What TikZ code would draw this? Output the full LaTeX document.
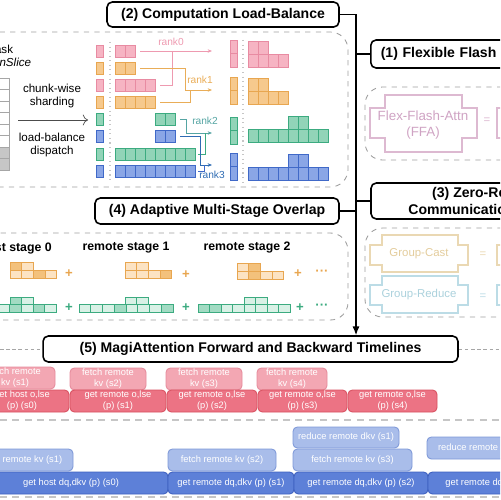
\documentclass[tikz,border=0pt]{standalone}
\usepackage{fontspec}
\setmainfont{Liberation Sans}
\usetikzlibrary{arrows.meta}

\definecolor{pkfill}{HTML}{F6B4C3}
\definecolor{pkline}{HTML}{E88BA2}
\definecolor{orfill}{HTML}{F6C98D}
\definecolor{orline}{HTML}{E8A650}
\definecolor{gnfill}{HTML}{92D4B8}
\definecolor{gnline}{HTML}{3CAB80}
\definecolor{blfill}{HTML}{8AA6E6}
\definecolor{blline}{HTML}{4069C8}
\definecolor{orD}{HTML}{F3C17C}
\definecolor{orL}{HTML}{FCE3C3}
\definecolor{gnD}{HTML}{A2DBC3}
\definecolor{gnL}{HTML}{D9F1E6}
\definecolor{rkzero}{HTML}{EE9AB0}
\definecolor{rkone}{HTML}{E9AD58}
\definecolor{rktwo}{HTML}{55A5A3}
\definecolor{rkthree}{HTML}{2F6CB3}
\definecolor{fwlite}{HTML}{F3A7B3}
\definecolor{fwlitel}{HTML}{E58A9B}
\definecolor{fwdark}{HTML}{EC7384}
\definecolor{fwdarkl}{HTML}{D8505F}
\definecolor{bwlite}{HTML}{A9BDEA}
\definecolor{bwlitel}{HTML}{7D98D8}
\definecolor{bwdark}{HTML}{5D80D8}
\definecolor{bwdarkl}{HTML}{3C5FBF}
\definecolor{ffa}{HTML}{DDB9D1}
\definecolor{ffatext}{HTML}{CFA3C3}
\definecolor{gcast}{HTML}{EAD8B3}
\definecolor{gcasttext}{HTML}{E3CC9C}
\definecolor{greduce}{HTML}{BCDCE6}
\definecolor{greducetext}{HTML}{ABD1DC}

\newcommand{\cellrow}[6]{\foreach \k in {1,...,#3} \draw[#6] ({#1+(\k-1)*(#4)},#2) rectangle ++(#4,#5);}
\newcommand{\tonerow}[6]{\foreach \c [count=\k] in {#6} \draw[draw=#5, fill=\c, line width=0.4pt] ({#1+(\k-1)*(#3)},#2) rectangle ++(#3,#4);}
\newcommand{\tlbox}[7]{\node[#6, minimum width={(#4-(#2))*0.02cm}, minimum height={(#5-(#3))*0.02cm}] (#1) at ({(#2+#4)/2},{(#3+#5)/2}) {#7};}
\newcommand{\plusshape}[9]{\draw[#9] (#2,#5) -- (#3,#5) -- (#3,#6) -- (#4,#6) -- (#4,#7) -- (#3,#7) -- (#3,#8) -- (#2,#8) -- (#2,#7) -- (#1,#7) -- (#1,#6) -- (#2,#6) -- cycle;}

\begin{document}
\begin{tikzpicture}[x=0.02cm, y=-0.02cm,
    title/.style={draw, line width=0.9pt, rounded corners=3pt, fill=white, font=\bfseries\fontsize{8}{9.4}\selectfont, inner sep=0pt},
    frame/.style={draw=gray!75, dashed, line width=0.5pt, rounded corners=10pt},
    sepline/.style={gray!70, line width=0.5pt, dash pattern=on 2pt off 1.5pt},
    longsep/.style={gray!45, line width=0.8pt, dash pattern=on 4pt off 3pt},
    trunk/.style={line width=0.7pt},
    lbl/.style={font=\fontsize{6.6}{7.4}\selectfont, align=center, inner sep=0pt},
    stagelbl/.style={font=\bfseries\fontsize{7}{7.5}\selectfont, inner sep=0pt},
    rklbl/.style={font=\fontsize{5.8}{6}\selectfont, inner sep=0pt},
    rk/.style={line width=0.4pt},
    rktip/.style={line width=0.4pt, -{Stealth[length=2.5pt,width=2pt]}},
    pk/.style={fill=pkfill, draw=pkline, line width=0.4pt},
    or/.style={fill=orfill, draw=orline, line width=0.4pt},
    gn/.style={fill=gnfill, draw=gnline, line width=0.4pt},
    bl/.style={fill=blfill, draw=blline, line width=0.4pt},
    plusop/.style={font=\bfseries\fontsize{7.5}{7.5}\selectfont, inner sep=0pt},
    prim/.style={line width=0.6pt},
    primtext/.style={font=\fontsize{6.5}{7.6}\selectfont, align=center, inner sep=0pt},
    tl/.style={rounded corners=2.5pt, line width=0.5pt, text=white, align=center, inner sep=0pt, font=\fontsize{5.3}{6.2}\selectfont},
    fwtop/.style={tl, fill=fwlite, draw=fwlitel},
    fwbot/.style={tl, fill=fwdark, draw=fwdarkl},
    bwtop/.style={tl, fill=bwlite, draw=bwlitel},
    bwbot/.style={tl, fill=bwdark, draw=bwdarkl}]
\useasboundingbox (0,0) rectangle (500,500);
\clip (0,0) rectangle (500,500);

\draw[frame] (-30,32) rectangle (348,187);
\draw[frame] (-30,233) rectangle (348,320);
\draw[frame] (365,87) rectangle (560,160);
\draw[frame] (365,228) rectangle (560,317);

\node[title, minimum width=4.64cm, minimum height=0.5cm] (t2) at (223,14.5) {(2) Computation Load-Balance};
\node[title, anchor=west, inner xsep=0.2cm, text width=4.6cm, minimum height=0.56cm, align=left] (t1) at (370,54) {(1) Flexible Flash Attention};
\node[title, minimum width=5.04cm, minimum height=0.72cm, align=center] (t3) at (497,201) {(3) Zero-Redundant\\Communication Primitives};
\node[title, minimum width=4.88cm, minimum height=0.52cm] (t4) at (217,211) {(4) Adaptive Multi-Stage Overlap};
\node[title, minimum width=8.3cm, minimum height=0.52cm] (t5) at (250.5,349) {(5) MagiAttention Forward and Backward Timelines};

\coordinate (tk) at (356,14.5);
\draw[trunk] (t2.east) -- (tk);
\draw[trunk, -{Latex[length=5pt,width=4pt]}] (tk) -- (tk |- t5.north);
\draw[trunk] (t1.west) -- (t1.west -| tk);
\draw[trunk] (t3.west) -- (t3.west -| tk);
\draw[trunk] (t4.east) -- (t4.east -| tk);

\draw[sepline] (0,349) -- (t5.west);
\draw[sepline] (t5.east) -- (500,349);
\draw[longsep] (0,420) -- (500,420);
\draw[longsep] (0,497) -- (500,497);

% (2) load-balance
\node[lbl, anchor=north west, align=left] (mask) at (-15,45) {Mask\\\textit{AttnSlice}};
\foreach \i in {0,...,7}
    \draw[draw=gray!70, fill=white, line width=0.4pt] (-30,{78+\i*11.5}) rectangle (9,{89.5+\i*11.5});
\foreach \i in {6,7}
    \draw[draw=gray!70, fill=gray!45, line width=0.4pt] (-30,{78+\i*11.5}) rectangle (9,{89.5+\i*11.5});
\node[lbl] (shard) at (52,96) {chunk-wise\\sharding};
\node[lbl] (dispatch) at (52,145) {load-balance\\dispatch};
\coordinate (sh0) at (18,120);
\coordinate (sh1) at (88,120);
\draw[gray!60!black, line width=0.4pt, -{To[length=3pt]}] (sh0) -- (sh1);

\foreach \s/\y in {pk/45, or/62, pk/79, or/96, gn/113, bl/130, gn/148, bl/165}
    \draw[\s] (96,\y) rectangle (103,\y+12);
\draw[gray!45, dotted, line width=0.6pt] (110,42) -- (110,182);
\cellrow{115}{45}{2}{10}{12}{pk}
\cellrow{115}{62}{2}{10}{12}{or}
\cellrow{115}{79}{4}{10}{12}{pk}
\cellrow{115}{96}{4}{10}{12}{or}
\cellrow{155}{113}{2}{10}{12}{gn}
\cellrow{155}{130}{2}{10}{12}{bl}
\cellrow{115}{148}{8}{10}{12}{gn}
\cellrow{115}{165}{8}{10}{12}{bl}

\coordinate (e1) at (140,51);  \coordinate (e2) at (140,68);
\coordinate (e3) at (160,85);  \coordinate (e4) at (160,102);
\coordinate (e5) at (180,119); \coordinate (e6) at (180,136);
\coordinate (e7) at (198,154); \coordinate (e8) at (198,171);
\coordinate (j0) at (172,51);
\coordinate (j1a) at (185,90); \coordinate (j1b) at (190,90);
\coordinate (j2a) at (186,133); \coordinate (j2b) at (205,133);
\coordinate (j3a) at (200,165); \coordinate (j3b) at (204,165);
\coordinate (g0) at (212,51);  \coordinate (g1) at (212,90);
\coordinate (g2) at (212,133); \coordinate (g3) at (212,165);

\draw[rktip, rkzero] (e1) -- (g0);
\draw[rk, rkzero] (e3) -| (j0);
\draw[rktip, rkone] (e2) -| (j1a) -- (g1);
\draw[rk, rkone] (e4) -| (j1b);
\draw[rktip, rktwo] (e5) -| (j2a) -- (g2);
\draw[rk, gnline] (e7) -| (j2b);
\draw[rktip, rkthree] (e6) -| (j3a) -- (g3);
\draw[rk, blline] (e8) -| (j3b);
\node[rklbl, text=rkzero] (rank0) at (171,42) {rank0};
\node[rklbl, text=rkone] (rank1) at (200,80) {rank1};
\node[rklbl, text=rktwo] (rank2) at (205,121) {rank2};
\node[rklbl, text=rkthree] (rank3) at (212,175) {rank3};

\foreach \s/\y in {pk/40, or/77, gn/117, bl/153} {
    \draw[\s] (230,\y) rectangle (237,\y+13.5);
    \draw[\s] (230,\y+13.5) rectangle (237,\y+27);
}
\draw[gray!45, dotted, line width=0.6pt] (243,40) -- (243,182);
\cellrow{248}{41}{2}{10}{13}{pk}
\cellrow{248}{54}{4}{10}{13}{pk}
\cellrow{248}{78}{2}{10}{13}{or}
\cellrow{248}{91}{4}{10}{13}{or}
\cellrow{288}{116}{2}{10}{13}{gn}
\cellrow{248}{129}{8}{10}{13}{gn}
\cellrow{288}{154}{2}{10}{13}{bl}
\cellrow{248}{167}{8}{10}{13}{bl}

% (4) multi-stage overlap
\node[stagelbl, anchor=east] (st0) at (52,248) {host stage 0};
\node[stagelbl] (st1) at (126,248) {remote stage 1};
\node[stagelbl] (st2) at (247,248) {remote stage 2};

\tonerow{10}{262}{11.7}{8}{orline}{orD,orL}
\tonerow{10}{270}{11.7}{8}{orline}{orL,orL,orD,orL}
\tonerow{125}{262}{11.7}{8}{orline}{orL,orL}
\tonerow{125}{270}{11.7}{8}{orline}{orL,orL,orL,orD}
\tonerow{237}{263}{11.7}{8}{orline}{orL,orD}
\tonerow{237}{271}{11.7}{8}{orline}{orL,orD,orL,orL}
\node[plusop, text=orline] (po1) at (69,274) {+};
\node[plusop, text=orline] (po2) at (186,275) {+};
\node[plusop, text=orline] (po3) at (298,274) {+};
\node[plusop, text=orline] (po4) at (322,273) {···};

\tonerow{10}{297}{11.7}{7.5}{gnline}{gnD,gnL}
\tonerow{-2}{304.5}{11.7}{7.5}{gnline}{gnL,gnD,gnL,gnD,gnL}
\tonerow{125}{297}{11.7}{7.5}{gnline}{gnL,gnL}
\tonerow{79}{304.5}{11.75}{7.5}{gnline}{gnL,gnL,gnL,gnD,gnL,gnL,gnL,gnD}
\tonerow{244}{297}{11.5}{7.5}{gnline}{gnL,gnL}
\tonerow{198}{304.5}{11.5}{7.5}{gnline}{gnD,gnD,gnL,gnL,gnL,gnL,gnL,gnL}
\node[plusop, text=gnline] (pg1) at (69,308) {+};
\node[plusop, text=gnline] (pg2) at (186,308) {+};
\node[plusop, text=gnline] (pg3) at (300,308) {+};
\node[plusop, text=gnline] (pg4) at (322,307) {···};

% (1) and (3) primitives
\plusshape{370}{385}{462}{477}{95}{108}{138}{152}{prim, ffa}
\plusshape{497}{512}{590}{605}{95}{108}{138}{152}{prim, ffa}
\node[primtext, text=ffatext, font=\fontsize{7.6}{8.6}\selectfont] (ffa) at (423,125) {Flex-Flash-Attn\\(FFA)};
\node[primtext, text=ffa] (ffaeq) at (487,121) {=};

\plusshape{370}{382}{458}{468}{235}{245}{265}{272}{prim, gcast}
\plusshape{497}{509}{585}{595}{235}{245}{265}{272}{prim, gcast}
\node[primtext, text=gcasttext] (gc) at (419,254) {Group-Cast};
\node[primtext, text=gcast] (gceq) at (483,255) {=};

\plusshape{370}{382}{458}{468}{276}{285}{305}{313}{prim, greduce}
\plusshape{497}{509}{585}{595}{276}{285}{305}{313}{prim, greduce}
\node[primtext, text=greducetext] (gr) at (419,295) {Group-Reduce};
\node[primtext, text=greduce] (greq) at (483,297) {=};

% (5) timelines
\tlbox{fa1}{-25}{367}{55}{389}{fwtop}{fetch remote\\kv (s1)}
\tlbox{fa2}{70}{368}{146}{390}{fwtop}{fetch remote\\kv (s2)}
\tlbox{fa3}{166}{368}{242}{390}{fwtop}{fetch remote\\kv (s3)}
\tlbox{fa4}{257}{368}{327}{390}{fwtop}{fetch remote\\kv (s4)}
\tlbox{fb0}{-25}{390}{69}{412}{fwbot}{get host o,lse\\(p) (s0)}
\tlbox{fb1}{70}{390}{166}{412}{fwbot}{get remote o,lse\\(p) (s1)}
\tlbox{fb2}{167}{390}{257}{412}{fwbot}{get remote o,lse\\(p) (s2)}
\tlbox{fb3}{258}{390}{347}{412}{fwbot}{get remote o,lse\\(p) (s3)}
\tlbox{fb4}{348}{390}{437}{412}{fwbot}{get remote o,lse\\(p) (s4)}

\tlbox{ba1}{293}{427}{399}{448}{bwtop}{reduce remote dkv (s1)}
\tlbox{ba2}{427}{437}{545}{459}{bwtop}{reduce remote dkv (s2)}
\tlbox{bb1}{-31}{449}{73}{471}{bwtop}{fetch remote kv (s1)}
\tlbox{bb2}{168}{449}{276}{471}{bwtop}{fetch remote kv (s2)}
\tlbox{bb3}{293}{449}{412}{471}{bwtop}{fetch remote kv (s3)}
\tlbox{bc0}{-26}{472}{168}{494}{bwbot}{get host dq,dkv (p) (s0)}
\tlbox{bc1}{168}{472}{294}{494}{bwbot}{get remote dq,dkv (p) (s1)}
\tlbox{bc2}{294}{472}{428}{494}{bwbot}{get remote dq,dkv (p) (s2)}
\tlbox{bc3}{428}{472}{570}{494}{bwbot}{get remote dq,dkv (p) (s3)}
\end{tikzpicture}
\end{document}
